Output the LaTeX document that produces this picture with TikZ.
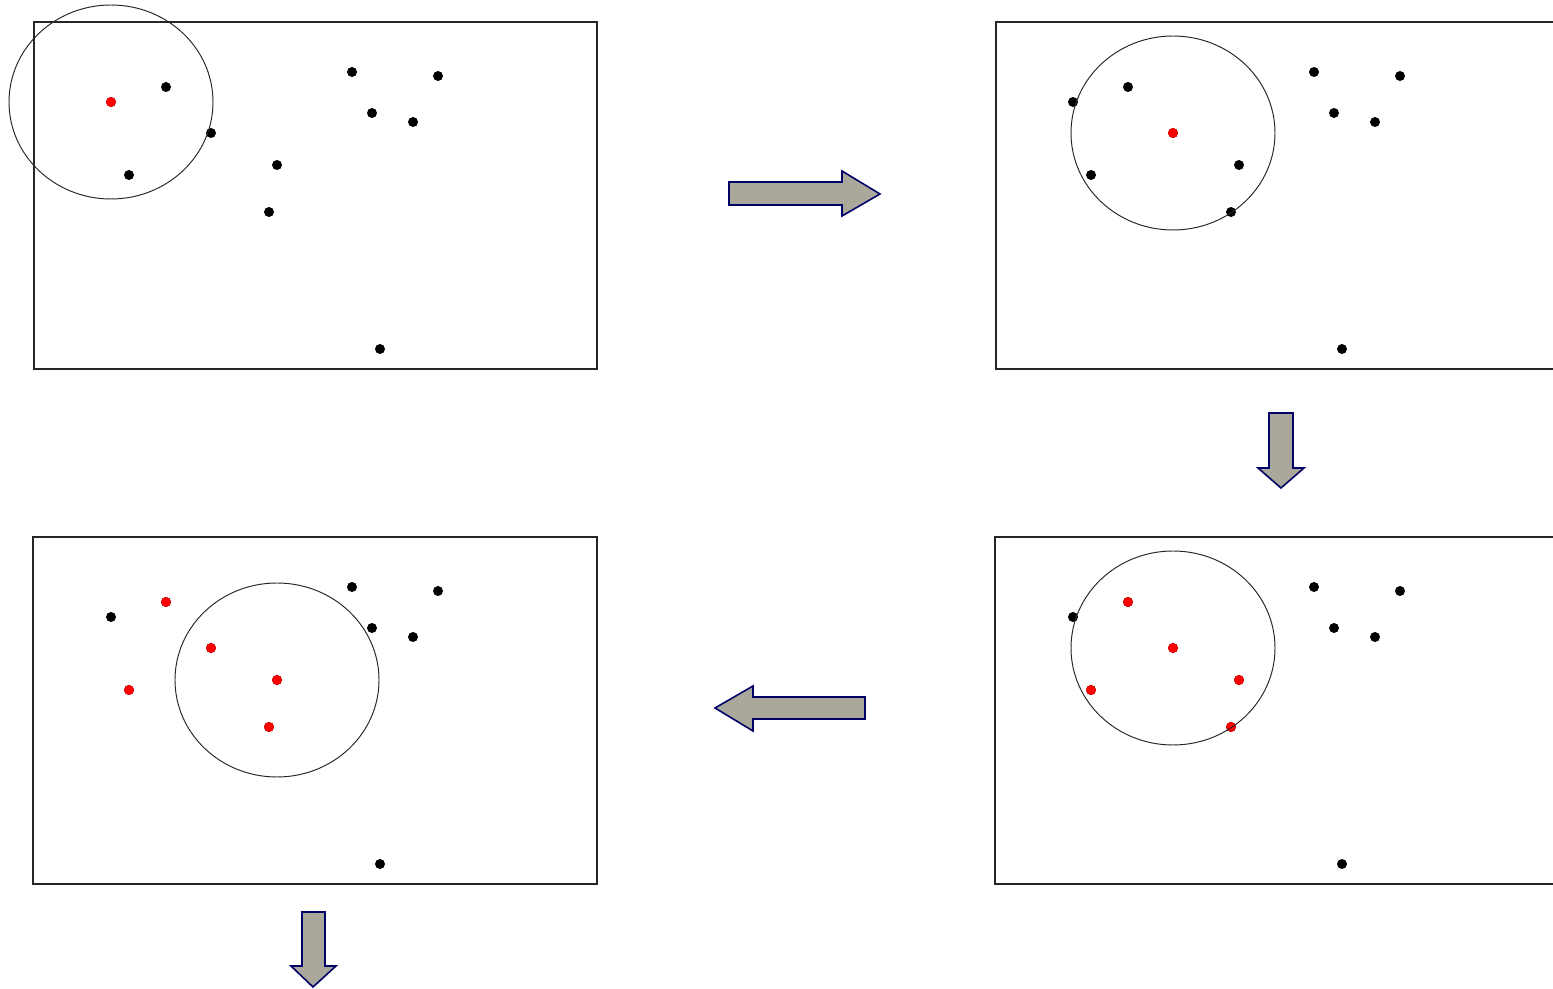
\documentclass[tikz,border=0pt]{standalone}
\definecolor{navy}{HTML}{000066}
\definecolor{arrowgray}{HTML}{A9A89A}
\def\samplepts{77/80,132/65,177/111,95/153,243/143,235/190,318/50,404/54,338/91,379/100,346/327}

\begin{document}
\begin{tikzpicture}[
  x=0.02cm,
  y=-0.02cm,
  frame/.style={draw=black!85, line width=0.9pt},
  window/.style={draw=black!85, line width=0.55pt},
  dot/.style={fill=black},
  hit/.style={fill=red},
  blockarrow/.style={draw=navy, fill=arrowgray, line width=0.9pt, line join=miter}
]
\useasboundingbox (0,0) rectangle (1553,989);

% step 1: window at the first point
\draw[frame] (34,22) rectangle (597,369);
\begin{scope}[shift={(34,22)}]
  \foreach \px/\py in \samplepts
    \fill[dot] (\px,\py) circle[radius=5];
  \fill[hit] (77,80) circle[radius=5];
  \draw[window] (77,80) ellipse[x radius=102, y radius=97];
\end{scope}

\draw[blockarrow] (729,182) -- (842,182) -- (842,171) -- (880,194) -- (842,216) -- (842,205) -- (729,205) -- cycle;

% step 2: window shifted to the mean
\draw[frame] (1553,22) -- (996,22) -- (996,369) -- (1553,369);
\begin{scope}[shift={(996,22)}]
  \foreach \px/\py in \samplepts
    \fill[dot] (\px,\py) circle[radius=5];
  \fill[hit] (177,111) circle[radius=5];
  \draw[window] (177,111) ellipse[x radius=102, y radius=97];
\end{scope}

\draw[blockarrow] (1269,413) -- (1293,413) -- (1293,468) -- (1304,468) -- (1281,488) -- (1258,468) -- (1269,468) -- cycle;

% step 3: points inside the window
\draw[frame] (1553,537) -- (995,537) -- (995,884) -- (1553,884);
\begin{scope}[shift={(996,537)}]
  \foreach \px/\py in \samplepts
    \fill[dot] (\px,\py) circle[radius=5];
  \foreach \px/\py in {132/65,177/111,95/153,243/143,235/190}
    \fill[hit] (\px,\py) circle[radius=5];
  \draw[window] (177,111) ellipse[x radius=102, y radius=97];
\end{scope}

\draw[blockarrow] (865,697) -- (753,697) -- (753,686) -- (715,708) -- (753,731) -- (753,719) -- (865,719) -- cycle;

% step 4: next shift
\draw[frame] (33,537) rectangle (597,884);
\begin{scope}[shift={(34,537)}]
  \foreach \px/\py in \samplepts
    \fill[dot] (\px,\py) circle[radius=5];
  \foreach \px/\py in {132/65,177/111,95/153,243/143,235/190}
    \fill[hit] (\px,\py) circle[radius=5];
  \draw[window] (243,143) ellipse[x radius=102, y radius=97];
\end{scope}

\draw[blockarrow] (302,912) -- (325,912) -- (325,966) -- (336,966) -- (313,987) -- (291,966) -- (302,966) -- cycle;
\end{tikzpicture}
\end{document}
